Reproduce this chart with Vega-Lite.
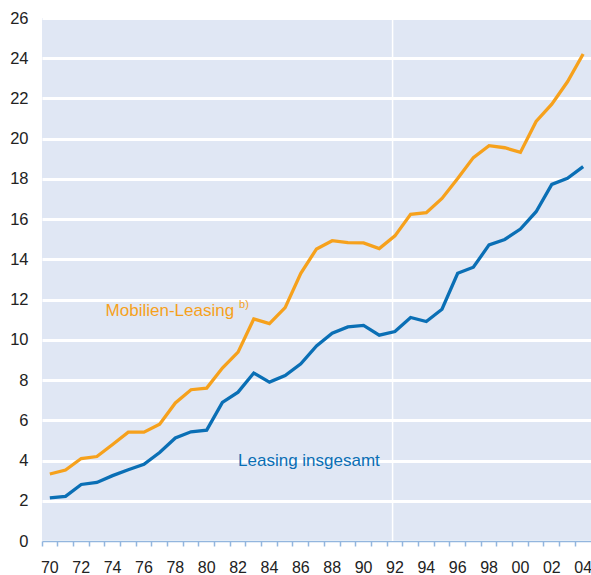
{
  "$schema": "https://vega.github.io/schema/vega-lite/v6.json",
  "width": 549,
  "height": 523,
  "autosize": "none",
  "padding": {"left": 42, "top": 18, "right": 0, "bottom": 34},
  "background": "white",
  "config": {
    "font": "Liberation Sans",
    "view": {"fill": "#e0e7f4", "stroke": null}
  },
  "datasets": {
    "series": [
      {"year": 1970, "series": "Leasing insgesamt", "value": 2.14},
      {"year": 1971, "series": "Leasing insgesamt", "value": 2.22},
      {"year": 1972, "series": "Leasing insgesamt", "value": 2.81},
      {"year": 1973, "series": "Leasing insgesamt", "value": 2.91},
      {"year": 1974, "series": "Leasing insgesamt", "value": 3.25},
      {"year": 1975, "series": "Leasing insgesamt", "value": 3.54},
      {"year": 1976, "series": "Leasing insgesamt", "value": 3.81},
      {"year": 1977, "series": "Leasing insgesamt", "value": 4.4},
      {"year": 1978, "series": "Leasing insgesamt", "value": 5.12},
      {"year": 1979, "series": "Leasing insgesamt", "value": 5.43},
      {"year": 1980, "series": "Leasing insgesamt", "value": 5.51},
      {"year": 1981, "series": "Leasing insgesamt", "value": 6.89},
      {"year": 1982, "series": "Leasing insgesamt", "value": 7.4},
      {"year": 1983, "series": "Leasing insgesamt", "value": 8.35},
      {"year": 1984, "series": "Leasing insgesamt", "value": 7.9},
      {"year": 1985, "series": "Leasing insgesamt", "value": 8.23},
      {"year": 1986, "series": "Leasing insgesamt", "value": 8.81},
      {"year": 1987, "series": "Leasing insgesamt", "value": 9.7},
      {"year": 1988, "series": "Leasing insgesamt", "value": 10.33},
      {"year": 1989, "series": "Leasing insgesamt", "value": 10.64},
      {"year": 1990, "series": "Leasing insgesamt", "value": 10.72},
      {"year": 1991, "series": "Leasing insgesamt", "value": 10.23},
      {"year": 1992, "series": "Leasing insgesamt", "value": 10.41},
      {"year": 1993, "series": "Leasing insgesamt", "value": 11.11},
      {"year": 1994, "series": "Leasing insgesamt", "value": 10.91},
      {"year": 1995, "series": "Leasing insgesamt", "value": 11.52},
      {"year": 1996, "series": "Leasing insgesamt", "value": 13.31},
      {"year": 1997, "series": "Leasing insgesamt", "value": 13.61},
      {"year": 1998, "series": "Leasing insgesamt", "value": 14.72},
      {"year": 1999, "series": "Leasing insgesamt", "value": 14.99},
      {"year": 2000, "series": "Leasing insgesamt", "value": 15.51},
      {"year": 2001, "series": "Leasing insgesamt", "value": 16.37},
      {"year": 2002, "series": "Leasing insgesamt", "value": 17.73},
      {"year": 2003, "series": "Leasing insgesamt", "value": 18.03},
      {"year": 2004, "series": "Leasing insgesamt", "value": 18.61},
      {"year": 1970, "series": "Mobilien-Leasing", "value": 3.33},
      {"year": 1971, "series": "Mobilien-Leasing", "value": 3.53},
      {"year": 1972, "series": "Mobilien-Leasing", "value": 4.1},
      {"year": 1973, "series": "Mobilien-Leasing", "value": 4.2},
      {"year": 1974, "series": "Mobilien-Leasing", "value": 4.8},
      {"year": 1975, "series": "Mobilien-Leasing", "value": 5.41},
      {"year": 1976, "series": "Mobilien-Leasing", "value": 5.41},
      {"year": 1977, "series": "Mobilien-Leasing", "value": 5.81},
      {"year": 1978, "series": "Mobilien-Leasing", "value": 6.86},
      {"year": 1979, "series": "Mobilien-Leasing", "value": 7.52},
      {"year": 1980, "series": "Mobilien-Leasing", "value": 7.6},
      {"year": 1981, "series": "Mobilien-Leasing", "value": 8.6},
      {"year": 1982, "series": "Mobilien-Leasing", "value": 9.39},
      {"year": 1983, "series": "Mobilien-Leasing", "value": 11.04},
      {"year": 1984, "series": "Mobilien-Leasing", "value": 10.81},
      {"year": 1985, "series": "Mobilien-Leasing", "value": 11.6},
      {"year": 1986, "series": "Mobilien-Leasing", "value": 13.31},
      {"year": 1987, "series": "Mobilien-Leasing", "value": 14.52},
      {"year": 1988, "series": "Mobilien-Leasing", "value": 14.93},
      {"year": 1989, "series": "Mobilien-Leasing", "value": 14.83},
      {"year": 1990, "series": "Mobilien-Leasing", "value": 14.82},
      {"year": 1991, "series": "Mobilien-Leasing", "value": 14.54},
      {"year": 1992, "series": "Mobilien-Leasing", "value": 15.17},
      {"year": 1993, "series": "Mobilien-Leasing", "value": 16.24},
      {"year": 1994, "series": "Mobilien-Leasing", "value": 16.32},
      {"year": 1995, "series": "Mobilien-Leasing", "value": 17.03},
      {"year": 1996, "series": "Mobilien-Leasing", "value": 18.02},
      {"year": 1997, "series": "Mobilien-Leasing", "value": 19.06},
      {"year": 1998, "series": "Mobilien-Leasing", "value": 19.65},
      {"year": 1999, "series": "Mobilien-Leasing", "value": 19.55},
      {"year": 2000, "series": "Mobilien-Leasing", "value": 19.32},
      {"year": 2001, "series": "Mobilien-Leasing", "value": 20.86},
      {"year": 2002, "series": "Mobilien-Leasing", "value": 21.72},
      {"year": 2003, "series": "Mobilien-Leasing", "value": 22.83},
      {"year": 2004, "series": "Mobilien-Leasing", "value": 24.21}
    ],
    "labelA": [
      {"year": 1974, "value": 11.21, "series": "Mobilien-Leasing", "label": "Mobilien-Leasing"}
    ],
    "labelB": [
      {"year": 1982, "value": 3.71, "series": "Leasing insgesamt", "label": "Leasing insgesamt"}
    ],
    "notes": [
      {"year": 1982, "value": 11.6, "series": "Mobilien-Leasing", "label": "b)"}
    ],
    "marker": [
      {"year": 1992}
    ]
  },
  "encoding": {
    "x": {
      "field": "year",
      "type": "ordinal",
      "scale": {"type": "band", "paddingInner": 0, "paddingOuter": 0,
        "domain": [1970,1971,1972,1973,1974,1975,1976,1977,1978,1979,1980,1981,1982,1983,1984,1985,1986,1987,1988,1989,1990,1991,1992,1993,1994,1995,1996,1997,1998,1999,2000,2001,2002,2003,2004]},
      "axis": {
        "title": null,
        "bandPosition": 0,
        "labelAngle": 0,
        "labelOverlap": false,
        "labelExpr": "datum.value % 2 == 0 ? slice(toString(datum.value), 2) : ''",
        "labelFontSize": 16,
        "labelColor": "#222222",
        "labelPadding": 13,
        "tickColor": "#93b6de",
        "tickWidth": 1.5,
        "tickSize": 5,
        "domainColor": "#93b6de",
        "domainWidth": 1.5,
        "grid": false
      }
    }
  },
  "layer": [
    {
      "data": {"name": "marker"},
      "mark": {"type": "rule", "color": "white", "strokeWidth": 1.5},
      "encoding": {
        "x": {"field": "year", "type": "ordinal", "bandPosition": 0.35}
      }
    },
    {
      "data": {"name": "series"},
      "mark": {"type": "line", "strokeWidth": 3.3, "strokeJoin": "miter"},
      "encoding": {
        "y": {
          "field": "value",
          "type": "quantitative",
          "scale": {"domain": [0, 26], "nice": false},
          "axis": {
            "title": null,
            "values": [0,2,4,6,8,10,12,14,16,18,20,22,24,26],
            "domain": false,
            "ticks": false,
            "tickSize": 0,
            "labelPadding": 14,
            "labelFontSize": 16.5,
            "labelColor": "#222222",
            "gridColor": "white",
            "gridWidth": 3,
            "gridOpacity": 1
          }
        },
        "color": {
          "field": "series",
          "type": "nominal",
          "scale": {"domain": ["Leasing insgesamt", "Mobilien-Leasing"], "range": ["#0a6fb5", "#f6a11c"]},
          "legend": null
        }
      }
    },
    {
      "data": {"name": "labelA"},
      "mark": {"type": "text", "align": "left", "baseline": "alphabetic", "fontSize": 17, "dx": -7},
      "encoding": {
        "y": {"field": "value", "type": "quantitative"},
        "text": {"field": "label"},
        "color": {"field": "series", "type": "nominal", "legend": null}
      }
    },
    {
      "data": {"name": "labelB"},
      "mark": {"type": "text", "align": "left", "baseline": "alphabetic", "fontSize": 17, "dx": 0},
      "encoding": {
        "y": {"field": "value", "type": "quantitative"},
        "text": {"field": "label"},
        "color": {"field": "series", "type": "nominal", "legend": null}
      }
    },
    {
      "data": {"name": "notes"},
      "mark": {"type": "text", "align": "left", "baseline": "alphabetic", "fontSize": 11, "dx": 1},
      "encoding": {
        "y": {"field": "value", "type": "quantitative"},
        "text": {"field": "label"},
        "color": {"field": "series", "type": "nominal", "legend": null}
      }
    }
  ]
}
